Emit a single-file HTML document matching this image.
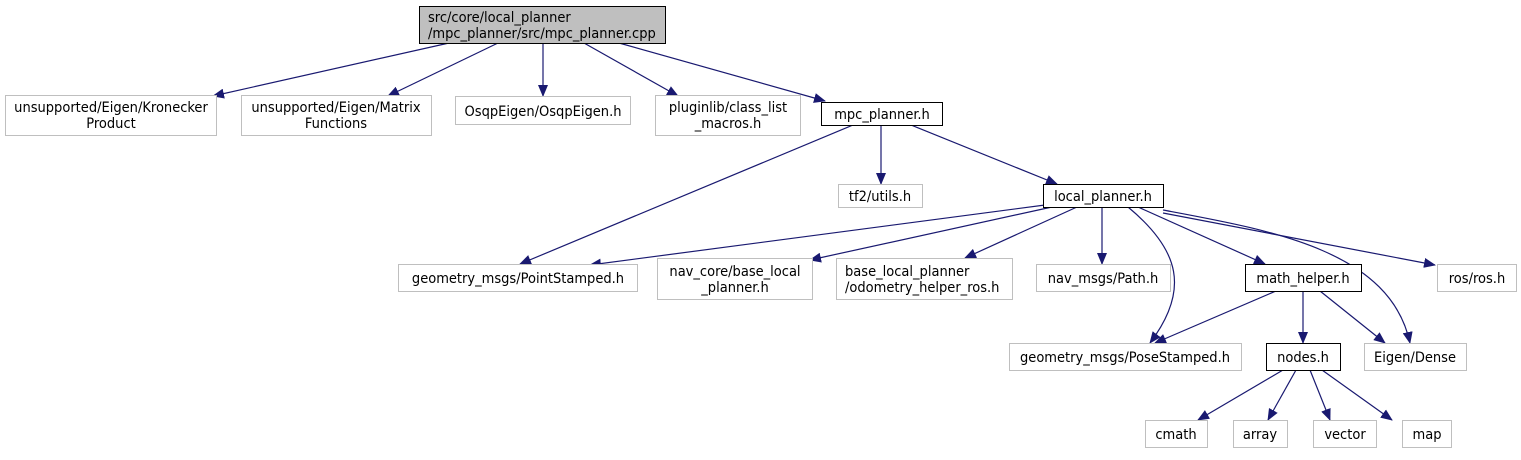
<!DOCTYPE html>
<html><head><meta charset="utf-8"><style>
html,body{margin:0;padding:0;background:#fff;}
svg text{font-family:"DejaVu Sans Condensed","DejaVu Sans","Liberation Sans",sans-serif;font-size:14.5px;fill:#000;}
</style></head><body>
<svg width="1521" height="455" viewBox="0 0 1521 455" xmlns="http://www.w3.org/2000/svg">
<defs><marker id="a" markerWidth="12" markerHeight="10" refX="11" refY="5" orient="auto" markerUnits="userSpaceOnUse"><path d="M0,0 L12,5 L0,10 z" fill="#191970"/></marker></defs>
<g fill="none" stroke="#191970" stroke-width="1.2" marker-end="url(#a)">
<path d="M449,43 L213,96"/>
<path d="M498,43 L388,96"/>
<path d="M543,43 L543,96"/>
<path d="M584,43 L678,96"/>
<path d="M619,43 L825,101"/>
<path d="M853,125 L520,264"/>
<path d="M881,125 L881,184"/>
<path d="M911,125 L1057,184"/>
<path d="M1045,205 L590,265"/>
<path d="M1052,207 L810,260"/>
<path d="M1077,207 L965,258"/>
<path d="M1102,207 L1102,264"/>
<path d="M1128,207 C1180,250 1190,290 1150,343"/>
<path d="M1138,207 L1265,264"/>
<path d="M1163,210 C1270,230 1390,250 1410,343"/>
<path d="M1163,213 L1435,265"/>
<path d="M1276,291 L1155,343"/>
<path d="M1303,291 L1303,343"/>
<path d="M1320,291 L1385,343"/>
<path d="M1283,370 L1198,420"/>
<path d="M1296,370 L1268,420"/>
<path d="M1310,370 L1330,420"/>
<path d="M1322,370 L1392,420"/>
</g>
<g stroke-width="1">
<rect x="419.5" y="6.5" width="246" height="37" fill="#bfbfbf" stroke="#000"/>
<rect x="5.5" y="95.5" width="211" height="40" fill="#fff" stroke="#bfbfbf"/>
<rect x="241.5" y="95.5" width="190" height="40" fill="#fff" stroke="#bfbfbf"/>
<rect x="455.5" y="96.5" width="175" height="28" fill="#fff" stroke="#bfbfbf"/>
<rect x="655.5" y="95.5" width="145" height="40" fill="#fff" stroke="#bfbfbf"/>
<rect x="821.5" y="102.5" width="121" height="23" fill="#fff" stroke="#000"/>
<rect x="838.5" y="184.5" width="84" height="23" fill="#fff" stroke="#bfbfbf"/>
<rect x="1043.5" y="184.5" width="120" height="23" fill="#fff" stroke="#000"/>
<rect x="398.5" y="264.5" width="239" height="27" fill="#fff" stroke="#bfbfbf"/>
<rect x="657.5" y="258.5" width="155" height="41" fill="#fff" stroke="#bfbfbf"/>
<rect x="836.5" y="258.5" width="176" height="41" fill="#fff" stroke="#bfbfbf"/>
<rect x="1036.5" y="264.5" width="134" height="27" fill="#fff" stroke="#bfbfbf"/>
<rect x="1245.5" y="264.5" width="116" height="27" fill="#fff" stroke="#000"/>
<rect x="1437.5" y="264.5" width="79" height="27" fill="#fff" stroke="#bfbfbf"/>
<rect x="1009.5" y="343.5" width="232" height="27" fill="#fff" stroke="#bfbfbf"/>
<rect x="1266.5" y="343.5" width="74" height="27" fill="#fff" stroke="#000"/>
<rect x="1364.5" y="343.5" width="102" height="27" fill="#fff" stroke="#bfbfbf"/>
<rect x="1145.5" y="420.5" width="62" height="27" fill="#fff" stroke="#bfbfbf"/>
<rect x="1233.5" y="420.5" width="54" height="27" fill="#fff" stroke="#bfbfbf"/>
<rect x="1313.5" y="420.5" width="63" height="27" fill="#fff" stroke="#bfbfbf"/>
<rect x="1402.5" y="420.5" width="49" height="27" fill="#fff" stroke="#bfbfbf"/>
</g>
<g>
<text x="428" y="22">src/core/local_planner</text>
<text x="428" y="38">/mpc_planner/src/mpc_planner.cpp</text>
<g text-anchor="middle">
<text x="111" y="112">unsupported/Eigen/Kronecker</text>
<text x="111" y="128">Product</text>
<text x="336" y="112">unsupported/Eigen/Matrix</text>
<text x="336" y="128">Functions</text>
<text x="543" y="116">OsqpEigen/OsqpEigen.h</text>
<text x="728" y="112">pluginlib/class_list</text>
<text x="728" y="128">_macros.h</text>
<text x="882" y="119">mpc_planner.h</text>
<text x="880" y="201">tf2/utils.h</text>
<text x="1103" y="201">local_planner.h</text>
<text x="518" y="283">geometry_msgs/PointStamped.h</text>
<text x="735" y="276">nav_core/base_local</text>
<text x="735" y="292">_planner.h</text>
<text x="1103" y="283">nav_msgs/Path.h</text>
<text x="1303" y="283">math_helper.h</text>
<text x="1477" y="283">ros/ros.h</text>
<text x="1125" y="362">geometry_msgs/PoseStamped.h</text>
<text x="1303" y="362">nodes.h</text>
<text x="1415" y="362">Eigen/Dense</text>
<text x="1176" y="439">cmath</text>
<text x="1260" y="439">array</text>
<text x="1345" y="439">vector</text>
<text x="1427" y="439">map</text>
</g>
<text x="845" y="276">base_local_planner</text>
<text x="845" y="292">/odometry_helper_ros.h</text>
</g>
</svg>
</body></html>
